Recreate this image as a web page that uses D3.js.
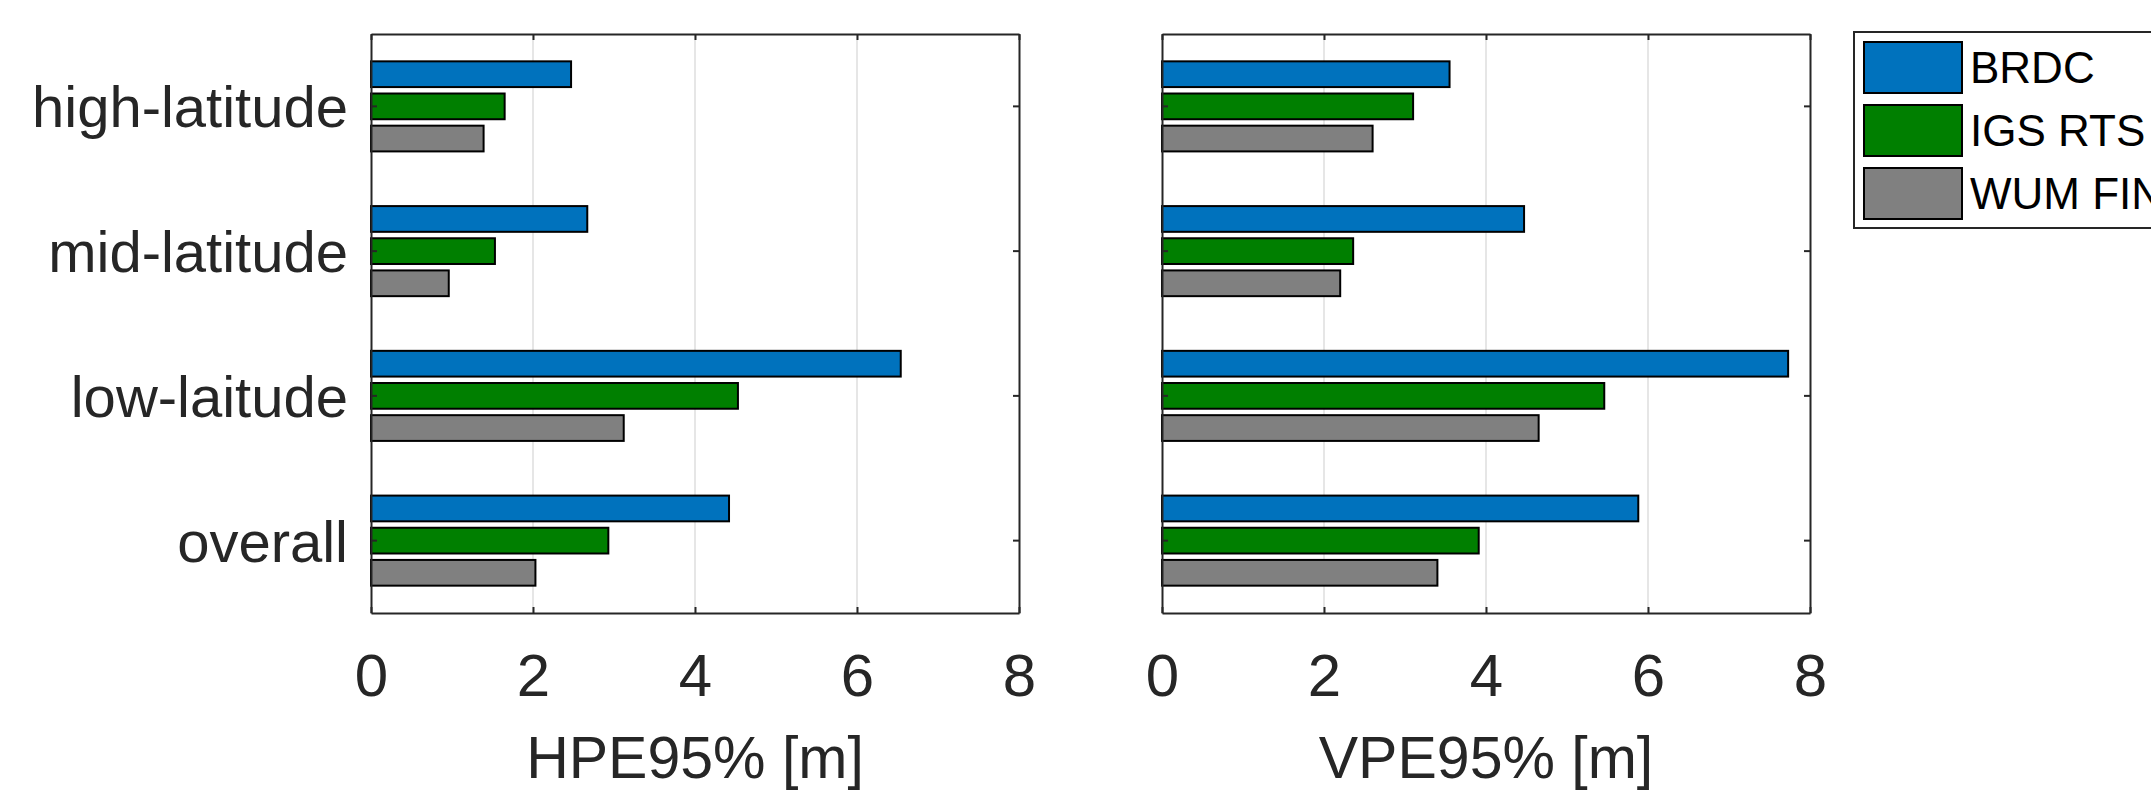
<!DOCTYPE html>
<html>
<head>
<meta charset="utf-8">
<script src="https://cdn.jsdelivr.net/npm/d3@7"></script>
<style>
  body { margin: 0; background: #fff; }
  svg { display: block; font-family: "Liberation Sans", Arial, Helvetica, sans-serif; }
  .grid line { stroke: #dedede; stroke-width: 1.5; }
  .axis path, .axis line { stroke: #262626; stroke-width: 2; }
  .axis text { fill: #262626; }
  .bar { stroke: #000; stroke-width: 2; }
</style>
</head>
<body>
<div id="chart"></div>
<script>
// categories, top to bottom
const categories = ['high-latitude', 'mid-latitude', 'low-laitude', 'overall'];
const seriesNames = ['BRDC', 'IGS RTS', 'WUM FIN'];
const seriesColors = ['#0072BD', '#007F00', '#808080'];
const xTicks = [0, 2, 4, 6, 8];

// HPE95% [m]
const hpeBRDC = [2.47, 2.67, 6.54, 4.42];
const hpeIGS = [1.65, 1.53, 4.53, 2.93];
const hpeWUM = [1.39, 0.96, 3.12, 2.03];

// VPE95% [m]
const vpeBRDC = [3.55, 4.47, 7.73, 5.88];
const vpeIGS = [3.10, 2.36, 5.46, 3.91];
const vpeWUM = [2.60, 2.20, 4.65, 3.40];

const W = 2151, H = 792;
let svg = d3.select('#chart').append('svg')
    .attr('width', W).attr('height', H);

// top and bottom of both axes boxes
const axTop = 34, axBottom = 613;

function panel(left, right, cols, xLabel, showCats) {
    let x = d3.scaleLinear().domain([0, 8]).range([left, right]),
        y = d3.scaleBand().domain(categories).range([axTop, axBottom]).padding(0),
        // grouped bars take 2/3 of each band like matlab barh
        bw = y.bandwidth(),
        yInner = d3.scaleBand().domain(seriesNames)
            .range([bw * (1 - 2 / 3) / 2, bw * (1 + 2 / 3) / 2])
            .paddingInner(0.2).paddingOuter(0.1);

    let g = svg.append('g');

    // grid
    g.append('g').classed('grid', true)
        .selectAll('line')
        .data(xTicks.slice(1, -1)).enter()
        .append('line')
        .attr('x1', d => x(d)).attr('x2', d => x(d))
        .attr('y1', axTop).attr('y2', axBottom);

    // bars
    let rows = categories.map((c, i) => ({
        cat: c,
        vals: seriesNames.map((s, j) => ({s: s, v: cols[j][i], color: seriesColors[j]}))
    }));
    g.selectAll('.grp')
        .data(rows).enter()
        .append('g')
        .attr('transform', d => `translate(0,${y(d.cat)})`)
        .selectAll('rect')
        .data(d => d.vals).enter()
        .append('rect')
        .classed('bar', true)
        .attr('x', x(0))
        .attr('y', d => yInner(d.s))
        .attr('width', d => x(d.v) - x(0))
        .attr('height', yInner.bandwidth())
        .attr('fill', d => d.color);

    // bottom axis
    g.append('g').classed('axis', true)
        .attr('transform', `translate(0,${axBottom})`)
        .call(d3.axisBottom(x).tickValues(xTicks).tickSize(-6).tickSizeOuter(0).tickPadding(40))
        .selectAll('text').style('font-size', '60px');

    // top axis (ticks only)
    g.append('g').classed('axis', true)
        .attr('transform', `translate(0,${axTop})`)
        .call(d3.axisTop(x).tickValues(xTicks).tickSize(-6).tickSizeOuter(0).tickFormat(''));

    // left axis
    let la = g.append('g').classed('axis', true)
        .attr('transform', `translate(${left},0)`)
        .call(d3.axisLeft(y).tickSize(-6).tickSizeOuter(0).tickPadding(23)
            .tickFormat(showCats ? (d => d) : ''));
    la.selectAll('text').style('font-size', '58px').attr('dy', '0.36em');

    // right axis
    g.append('g').classed('axis', true)
        .attr('transform', `translate(${right},0)`)
        .call(d3.axisRight(y).tickSize(-6).tickSizeOuter(0).tickFormat(''));

    // x label
    g.append('text')
        .attr('x', (left + right) / 2)
        .attr('y', 778)
        .attr('text-anchor', 'middle')
        .attr('fill', '#262626')
        .style('font-size', '59px')
        .text(xLabel);
}

panel(371, 1019, [hpeBRDC, hpeIGS, hpeWUM], 'HPE95% [m]', true);
panel(1162, 1810, [vpeBRDC, vpeIGS, vpeWUM], 'VPE95% [m]', false);

// legend
let legend = svg.append('g').attr('transform', 'translate(1854,32)');
legend.append('rect')
    .attr('width', 330).attr('height', 196)
    .attr('fill', '#fff').attr('stroke', '#262626').attr('stroke-width', 2);
let items = legend.selectAll('.item')
    .data(seriesNames).enter()
    .append('g')
    .attr('transform', (d, i) => `translate(10,${10 + i * 63})`);
items.append('rect')
    .classed('bar', true)
    .attr('width', 98).attr('height', 51)
    .attr('fill', (d, i) => seriesColors[i]);
items.append('text')
    .attr('x', 106).attr('y', 25.5).attr('dy', '0.36em')
    .attr('fill', '#000')
    .style('font-size', '44px')
    .text(d => d);
</script>
</body>
</html>
